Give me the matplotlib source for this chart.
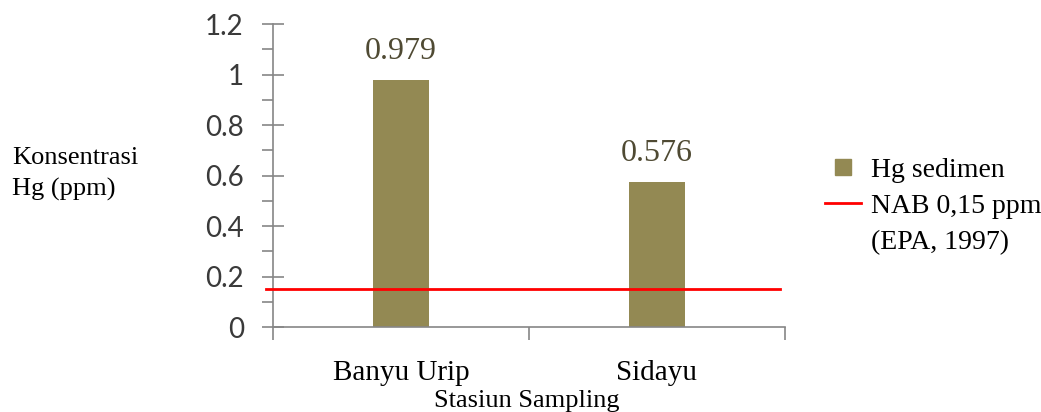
"""Hg concentration in sediment per sampling station vs. NAB threshold."""

import matplotlib.pyplot as plt
from matplotlib.lines import Line2D
from matplotlib.ticker import MultipleLocator

stations = ["Banyu Urip", "Sidayu"]
hg_sediment = [0.979, 0.576]
nab_limit = 0.15

BAR_COLOR = "#938953"
AXIS_COLOR = "#868686"
SERIF = "Liberation Serif"
SANS = "Lato"

fig = plt.figure(figsize=(10.41, 4.12), dpi=100)
ax = fig.add_axes([0.2622, 0.2063, 0.4918, 0.7354])

x = list(range(len(stations)))
ax.bar(x, hg_sediment, width=0.22, color=BAR_COLOR, zorder=2)
ax.axhline(nab_limit, color="#ff0000", linewidth=2, xmin=-0.014, xmax=0.99,
           zorder=3, clip_on=False)

for xi, val in zip(x, hg_sediment):
    ax.annotate(f"{val:.3f}", (xi, val), xytext=(0, 10), textcoords="offset points",
                ha="center", va="bottom", family=SERIF, fontsize=23, color="#4f4a33")

ax.set_xlim(-0.5, 1.5)
ax.set_ylim(0, 1.2)
ax.yaxis.set_minor_locator(MultipleLocator(0.1))
ax.set_yticks([0, 0.2, 0.4, 0.6, 0.8, 1.0, 1.2])
ax.set_yticklabels(["0", "0.2", "0.4", "0.6", "0.8", "1", "1.2"])
ax.set_xticks([-0.5, 0.5, 1.5])
ax.set_xticklabels([])
ax.set_xticks(x, minor=True)
ax.set_xticklabels(stations, minor=True)

for s in ("top", "right"):
    ax.spines[s].set_visible(False)
for s in ("left", "bottom"):
    ax.spines[s].set_color(AXIS_COLOR)
    ax.spines[s].set_linewidth(1.2)

ax.tick_params(axis="y", which="major", direction="inout", length=16, width=1.2,
               color=AXIS_COLOR, labelsize=20, labelcolor="#3a3a3a", pad=13)
ax.tick_params(axis="y", which="minor", direction="out", length=8, width=1.2, color=AXIS_COLOR)
ax.tick_params(axis="x", which="major", direction="out", length=9, width=1.2, color=AXIS_COLOR)
ax.tick_params(axis="x", which="minor", length=0, labelsize=21, pad=24)
for lbl in ax.get_yticklabels():
    lbl.set_family(SANS)
for lbl in ax.get_xticklabels(minor=True):
    lbl.set_family(SERIF)

fig.text(0.012, 0.578, "Konsentrasi\nHg (ppm)", family=SERIF, fontsize=19,
         ha="left", va="center", linespacing=1.5)
fig.text(0.506, 0.0, "Stasiun Sampling", family=SERIF, fontsize=19,
         ha="center", va="bottom")

# legend: bar swatch, threshold line, and the citation line under it
handles = [
    Line2D([], [], marker="s", linestyle="none", color=BAR_COLOR, markersize=12),
    Line2D([], [], color="#ff0000", linewidth=2),
    Line2D([], [], linestyle="none"),
]
labels = ["Hg sedimen", "NAB 0,15 ppm", "(EPA, 1997)"]
fig.legend(handles, labels, loc="upper left", bbox_to_anchor=(0.782, 0.645),
           frameon=False, prop={"family": SERIF, "size": 20},
           handlelength=1.3, handletextpad=0.35, labelspacing=0.39, borderaxespad=0)

fig.savefig("out.png", dpi=100)
